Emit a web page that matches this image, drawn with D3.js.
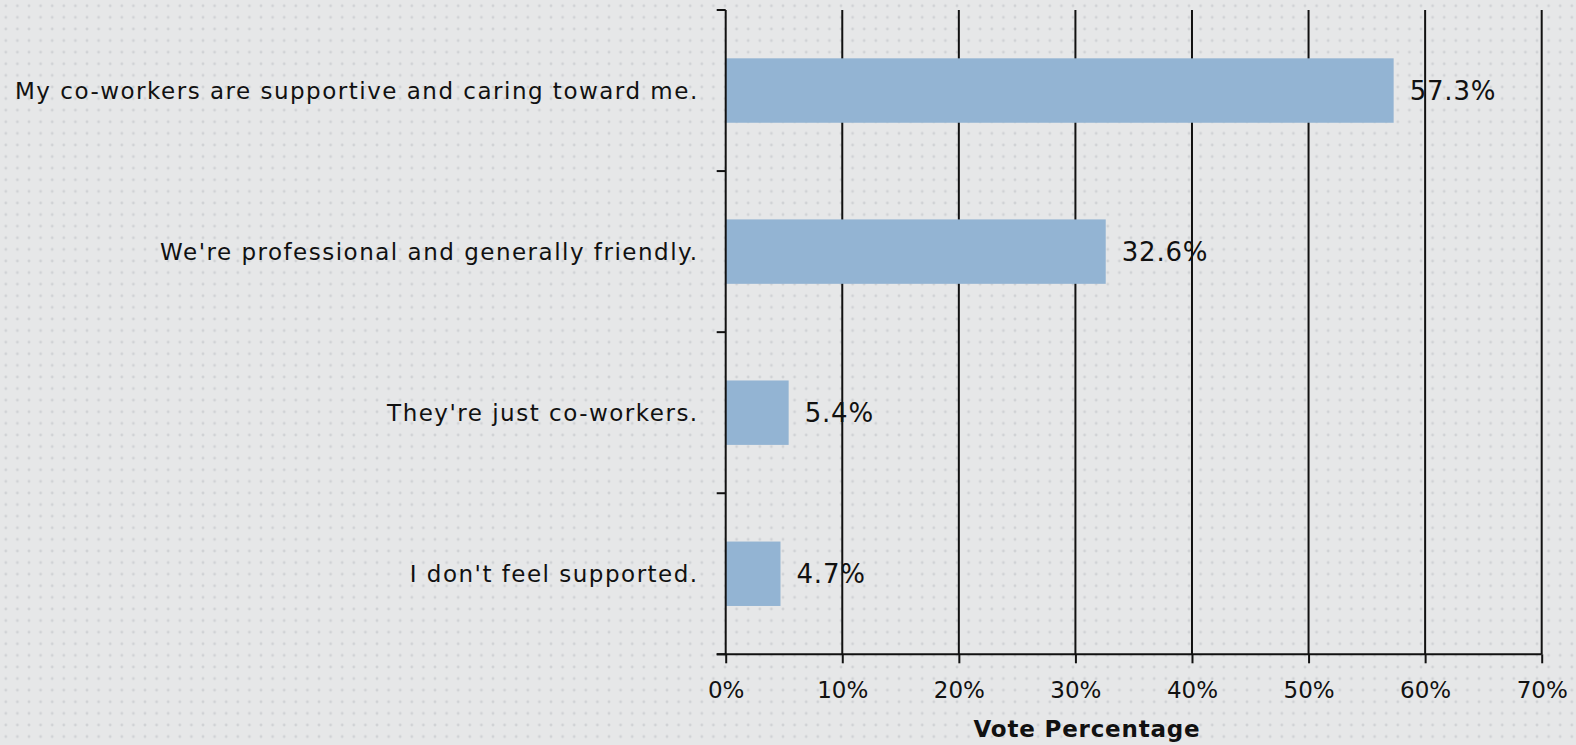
<!DOCTYPE html>
<html><head><meta charset="utf-8">
<script src="https://cdn.jsdelivr.net/npm/d3@7"></script>
<style>
html,body{margin:0;padding:0;background:#e6e7e8;}
svg{display:block;}
text{font-family:"DejaVu Sans",sans-serif;fill:#111;}
</style></head>
<body>
<script>
const categories = [
  "My co-workers are supportive and caring toward me.",
  "We're professional and generally friendly.",
  "They're just co-workers.",
  "I don't feel supported."
];
const values = [57.3, 32.6, 5.4, 4.7];
const valueLabels = ["57.3%", "32.6%", "5.4%", "4.7%"];
const xTicks = [0, 10, 20, 30, 40, 50, 60, 70];
const xTickLabels = ["0%", "10%", "20%", "30%", "40%", "50%", "60%", "70%"];
const axisTitle = "Vote Percentage";

const W = 1576, H = 745;
const m = {left: 725.7, right: 1541.7, top: 10, bottom: 654.3};

const svg = d3.select("body").append("svg").attr("width", W).attr("height", H);
const defs = svg.append("defs");
const pat = defs.append("pattern").attr("id", "dots").attr("patternUnits", "userSpaceOnUse")
  .attr("width", 11.6).attr("height", 11.6);
pat.append("rect").attr("width", 11.6).attr("height", 11.6).attr("fill", "#e6e7e8");
pat.append("circle").attr("cx", 5.8).attr("cy", 5.8).attr("r", 1.4).attr("fill", "#d0d2d5");
svg.append("rect").attr("width", W).attr("height", H).attr("fill", "url(#dots)");

const x = d3.scaleLinear().domain([0, 70]).range([m.left, m.right]);
const y = d3.scaleBand().domain(categories).range([m.top, m.bottom]).paddingInner(0.6).paddingOuter(0.3);

// gridlines
svg.append("g").selectAll("line").data(xTicks.slice(1)).join("line")
  .attr("x1", d => x(d)).attr("x2", d => x(d))
  .attr("y1", m.top).attr("y2", m.bottom)
  .attr("stroke", "#111").attr("stroke-width", 2);

// bars
svg.append("g").selectAll("rect").data(values).join("rect")
  .attr("x", x(0)).attr("y", (d, i) => y(categories[i]))
  .attr("width", d => x(d) - x(0)).attr("height", y.bandwidth())
  .attr("fill", "#93b4d3");

// x axis
const xAxis = d3.axisBottom(x).tickValues(xTicks).tickFormat((d, i) => xTickLabels[i])
  .tickSize(9).tickPadding(18);
const gx = svg.append("g").attr("transform", `translate(0,${m.bottom})`).call(xAxis);
gx.select(".domain").attr("stroke", "#111").attr("stroke-width", 2).attr("d", `M${m.left - 9},0H${m.right}`);
gx.selectAll(".tick line").attr("stroke", "#111").attr("stroke-width", 2);
gx.selectAll(".tick text").attr("font-family", "DejaVu Sans").attr("font-size", 23).attr("fill", "#111");

// y axis (category boundaries ticks)
const boundaries = d3.range(categories.length + 1).map(i => m.top + i * (m.bottom - m.top) / categories.length);
const gy = svg.append("g");
gy.append("line").attr("x1", m.left).attr("x2", m.left).attr("y1", m.top).attr("y2", m.bottom)
  .attr("stroke", "#111").attr("stroke-width", 2);
gy.selectAll("line.t").data(boundaries).join("line").attr("class", "t")
  .attr("x1", m.left - 9).attr("x2", m.left).attr("y1", d => d).attr("y2", d => d)
  .attr("stroke", "#111").attr("stroke-width", 2);
gy.selectAll("text").data(categories).join("text")
  .attr("x", m.left - 27).attr("y", d => y(d) + y.bandwidth() / 2)
  .attr("dy", "0.36em").attr("text-anchor", "end")
  .attr("font-size", 23).attr("letter-spacing", 1.5).text(d => d);

// value labels
svg.append("g").selectAll("text").data(values).join("text")
  .attr("x", d => x(d) + 16).attr("y", (d, i) => y(categories[i]) + y.bandwidth() / 2)
  .attr("dy", "0.36em").attr("font-size", 26).attr("letter-spacing", 0.8).text((d, i) => valueLabels[i]);

// axis title
svg.append("text").attr("x", 1087).attr("y", 737).attr("text-anchor", "middle")
  .attr("font-weight", "bold").attr("font-size", 23).attr("letter-spacing", 0.8).text(axisTitle);
</script>
</body></html>
